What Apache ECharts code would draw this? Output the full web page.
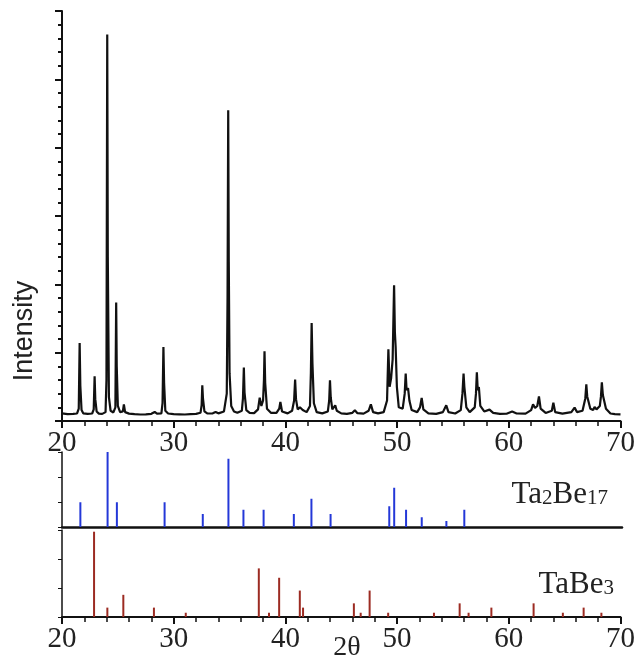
<!DOCTYPE html>
<html>
<head>
<meta charset="utf-8">
<script src="https://cdn.jsdelivr.net/npm/echarts@6/dist/echarts.min.js"></script>
<style>
  html, body { margin: 0; padding: 0; background: #fff; }
  #chart { width: 638px; height: 656px; }
</style>
</head>
<body>
<div id="chart"></div>
<script>
// measured XRD pattern, [2theta, counts]
var xrdPattern = [
  [20.0, 112], [20.5, 100], [21.0, 104], [21.35, 110], [21.5, 180], [21.58, 1141], [21.64, 520], [21.75, 160], [21.9, 112],
  [22.3, 104], [22.7, 110], [22.84, 170], [22.92, 654], [22.98, 320], [23.1, 140], [23.3, 108], [23.6, 104],
  [23.9, 130], [23.98, 600], [24.05, 5655], [24.1, 2400], [24.2, 350], [24.35, 150], [24.6, 125],
  [24.78, 200], [24.85, 1733], [24.9, 800], [25.0, 220], [25.2, 130], [25.45, 140], [25.54, 244], [25.65, 130],
  [26.0, 108], [26.5, 100], [27.0, 95], [27.5, 98], [28.0, 105], [28.3, 132], [28.5, 108],
  [28.9, 110], [29.0, 260], [29.08, 1083], [29.14, 560], [29.25, 150], [29.5, 110],
  [30.0, 100], [30.5, 98], [31.0, 95], [31.5, 102], [32.0, 104], [32.4, 120], [32.5, 230], [32.56, 522], [32.62, 330], [32.75, 140],
  [33.0, 110], [33.5, 112], [33.75, 132], [34.0, 112], [34.5, 140], [34.75, 400], [34.82, 1800], [34.88, 4547], [34.93, 2330],
  [35.0, 700], [35.15, 220], [35.4, 140], [35.7, 120], [36.1, 150], [36.2, 330], [36.28, 781], [36.34, 420], [36.5, 160],
  [36.8, 120], [37.2, 115], [37.55, 170], [37.7, 342], [37.85, 220], [38.0, 300], [38.08, 600], [38.13, 1020], [38.19, 560],
  [38.35, 180], [38.7, 120], [39.2, 118], [39.45, 180], [39.55, 278], [39.7, 140], [40.2, 112], [40.6, 150], [40.78, 300],
  [40.87, 606], [40.95, 320], [41.1, 170], [41.3, 200], [41.4, 215], [41.55, 160], [41.9, 130], [42.2, 220], [42.28, 700],
  [42.35, 1434], [42.42, 850], [42.55, 260], [42.8, 130], [43.3, 112], [43.8, 140], [43.92, 300], [43.99, 596], [44.06, 340],
  [44.2, 170], [44.35, 190], [44.46, 230], [44.6, 150], [45.0, 112], [45.5, 104], [46.0, 120], [46.22, 157], [46.45, 115],
  [47.0, 108], [47.45, 150], [47.65, 244], [47.85, 130], [48.3, 112], [48.8, 130], [49.1, 300], [49.22, 1049], [49.33, 500],
  [49.46, 620], [49.6, 900], [49.73, 1986], [49.8, 1300], [49.87, 1083], [49.98, 500], [50.15, 200], [50.5, 180], [50.68, 400],
  [50.77, 693], [50.85, 450], [50.98, 483], [51.1, 300], [51.3, 160], [51.8, 130], [52.05, 200], [52.2, 337], [52.35, 170],
  [52.8, 112], [53.5, 105], [54.1, 130], [54.4, 230], [54.6, 130], [55.2, 110], [55.7, 160], [55.85, 400], [55.95, 693],
  [56.02, 500], [56.2, 200], [56.5, 130], [56.95, 200], [57.06, 400], [57.14, 713], [57.22, 450], [57.32, 498], [57.45, 220],
  [57.8, 140], [58.27, 167], [58.6, 120], [59.2, 104], [59.8, 106], [60.3, 138], [60.7, 110], [61.5, 108], [62.0, 160],
  [62.17, 244], [62.35, 190], [62.55, 220], [62.7, 361], [62.85, 180], [63.3, 118], [63.85, 150], [63.99, 269], [64.15, 130],
  [64.8, 108], [65.6, 130], [65.89, 196], [66.1, 130], [66.6, 150], [66.85, 330], [66.94, 537], [67.02, 360], [67.14, 351],
  [67.3, 180], [67.55, 160], [67.68, 205], [67.85, 170], [68.15, 220], [68.25, 360], [68.33, 566], [68.42, 380], [68.54, 351],
  [68.7, 180], [69.1, 110], [69.5, 100], [70.0, 98]
];

// reference card Ta2Be17, [2theta, relative intensity]
var ta2be17Lines = [
  [21.64, 99], [24.07, 300], [24.9, 99], [29.16, 99], [32.57, 52], [34.86, 273], [36.2, 69], [38.0, 69],
  [40.7, 52], [42.27, 113], [43.98, 52], [49.22, 83], [49.66, 157], [50.72, 69], [52.12, 39], [54.32, 24], [55.92, 69]
];

// reference card TaBe3, [2theta, relative intensity]
var tabe3Lines = [
  [22.87, 100], [24.06, 11], [25.49, 26], [28.23, 11], [31.08, 5], [37.62, 57], [38.53, 5], [39.44, 46],
  [41.29, 31], [41.58, 11], [46.13, 16], [46.74, 5], [47.54, 31], [49.2, 5], [53.3, 5], [55.6, 16],
  [56.4, 5], [58.44, 11], [62.22, 16], [64.84, 5], [66.7, 11], [68.29, 5]
];

var xTicks = [20, 30, 40, 50, 60, 70];

var chart = echarts.init(document.getElementById('chart'), null, { renderer: 'canvas' });

var serif = 'Liberation Serif';

function xAxisOf(grid, withLabels) {
  return {
    type: 'value',
    gridIndex: grid,
    min: xTicks[0],
    max: xTicks[xTicks.length - 1],
    interval: 10,
    axisLine: { show: true, onZero: false, lineStyle: { color: '#111', width: 2 } },
    axisTick: { show: withLabels, inside: false, length: 7, lineStyle: { color: '#111', width: 2 } },
    minorTick: { show: withLabels, splitNumber: 5, length: 5, lineStyle: { color: '#111', width: 1.5 } },
    axisLabel: {
      show: withLabels,
      color: '#222',
      fontFamily: serif,
      fontSize: 29,
      margin: 8
    },
    splitLine: { show: false }
  };
}

// formula labels: normal weight, smaller digits as subscripts
var formulaRich = {
  a: { fontFamily: serif, fontSize: 31, fontWeight: 'normal', color: '#222' },
  s: { fontFamily: serif, fontSize: 21, fontWeight: 'normal', color: '#222', padding: [8, 0, 0, 0] }
};

chart.setOption({
  animation: false,
  backgroundColor: '#fff',
  grid: [
    { left: 62, right: 16, top: 11, bottom: 235 },
    { left: 62, right: 16, top: 452, bottom: 129 },
    { left: 62, right: 16, top: 530, bottom: 39 }
  ],
  xAxis: [
    xAxisOf(0, true),
    Object.assign(xAxisOf(1, false), { axisLine: { show: true, onZero: false, lineStyle: { color: '#111', width: 2.5 } } }),
    xAxisOf(2, true)
  ],
  yAxis: [
    {
      type: 'value', gridIndex: 0, min: 0, max: 6000, interval: 1000,
      axisLine: { show: true, lineStyle: { color: '#111', width: 2 } },
      axisTick: { show: true, length: 7, lineStyle: { color: '#111', width: 2 } },
      minorTick: { show: true, splitNumber: 5, length: 4, lineStyle: { color: '#111', width: 2 } },
      axisLabel: { show: false },
      splitLine: { show: false }
    },
    {
      type: 'value', gridIndex: 1, min: 0, max: 300, interval: 100,
      axisLine: { show: true, lineStyle: { color: '#111', width: 1.5 } },
      axisTick: { show: true, length: 4, lineStyle: { color: '#111', width: 1 } },
      axisLabel: { show: false },
      splitLine: { show: false }
    },
    {
      type: 'value', gridIndex: 2, min: 0, max: 102, interval: 34,
      axisLine: { show: true, lineStyle: { color: '#111', width: 1.5 } },
      axisTick: { show: true, length: 4, lineStyle: { color: '#111', width: 1 } },
      axisLabel: { show: false },
      splitLine: { show: false }
    }
  ],
  series: [
    {
      type: 'line',
      xAxisIndex: 0,
      yAxisIndex: 0,
      data: xrdPattern,
      showSymbol: false,
      lineStyle: { color: '#111', width: 2.2 }
    },
    {
      type: 'bar',
      xAxisIndex: 1,
      yAxisIndex: 1,
      data: ta2be17Lines,
      barWidth: 2,
      itemStyle: { color: '#2438d8' }
    },
    {
      type: 'bar',
      xAxisIndex: 2,
      yAxisIndex: 2,
      data: tabe3Lines,
      barWidth: 2,
      itemStyle: { color: '#9c2b22' }
    }
  ],
  title: [
    {
      text: '{a|Ta}{s|2}{a|Be}{s|17}',
      right: 25,
      top: 474,
      textStyle: { fontWeight: 'normal', rich: formulaRich }
    },
    {
      text: '{a|TaBe}{s|3}',
      right: 19,
      top: 564,
      textStyle: { fontWeight: 'normal', rich: formulaRich }
    }
  ],
  graphic: [
    {
      type: 'text',
      x: 25,
      y: 331,
      rotation: Math.PI / 2,
      style: {
        text: 'Intensity',
        fill: '#222',
        font: '27px "Liberation Sans"',
        align: 'center',
        verticalAlign: 'middle'
      }
    },
    {
      type: 'text',
      x: 347,
      y: 634,
      style: {
        text: '2θ',
        fill: '#222',
        font: '28px "Liberation Serif"',
        align: 'center',
        verticalAlign: 'top'
      }
    }
  ]
});
</script>
</body>
</html>
